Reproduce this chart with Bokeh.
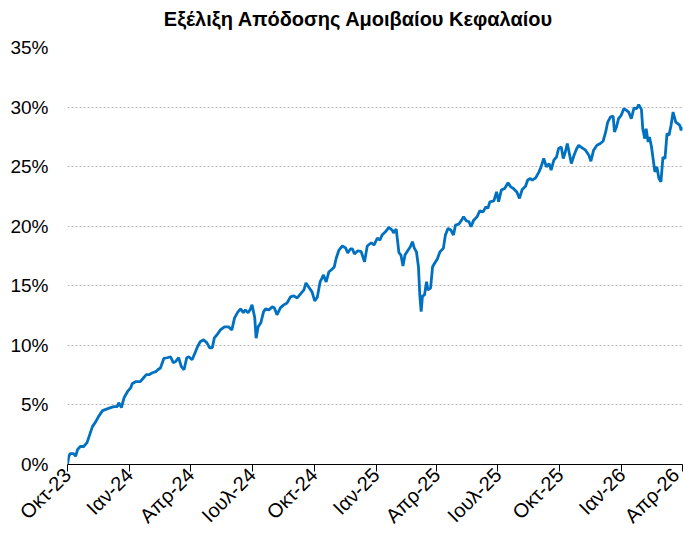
import pandas as pd
from bokeh.plotting import figure
from bokeh.models import FixedTicker, PrintfTickFormatter, Range1d, ColumnDataSource, Div
from bokeh.layouts import column
from bokeh.embed import file_html
from bokeh.resources import INLINE

title_text = "Εξέλιξη Απόδοσης Αμοιβαίου Κεφαλαίου"
start_date = "2023-10-01"
end_date = "2026-04-01"

# days since start_date
days = [0, 2, 4, 9, 12, 15, 19, 24, 29, 33, 37, 42, 46, 52, 56, 64, 69, 74, 76, 80,
        84, 89, 94, 96, 101, 108, 113, 117, 121, 126, 131, 134, 138, 143, 148, 153, 157, 160, 165, 169,
        173, 177, 180, 185, 190, 193, 197, 202, 207, 211, 215, 218, 222, 227, 233, 239, 244, 248, 253, 257,
        261, 264, 268, 271, 274, 278, 280, 283, 287, 291, 294, 299, 304, 307, 311, 316, 321, 326, 331, 336,
        341, 346, 351, 354, 358, 363, 367, 371, 375, 378, 380, 384, 388, 393, 396, 399, 403, 408, 413, 416,
        420, 423, 426, 431, 436, 441, 445, 451, 455, 460, 464, 467, 472, 477, 482, 484, 488, 492, 495, 498,
        501, 504, 509, 512, 515, 518, 521, 523, 525, 527, 530, 533, 535, 539, 542, 545, 549, 553, 558, 561,
        565, 569, 573, 576, 581, 585, 588, 592, 596, 599, 603, 608, 612, 617, 621, 624, 627, 633, 637, 640,
        644, 649, 654, 658, 662, 667, 671, 675, 680, 683, 687, 690, 695, 700, 703, 707, 711, 715, 718, 722,
        726, 729, 733, 736, 739, 742, 745, 748, 752, 756, 759, 764, 769, 774, 777, 781, 786, 791, 795, 799,
        802, 806, 810, 812, 815, 818, 822, 826, 830, 833, 837, 841, 845, 848, 852, 854, 857, 859, 862, 864,
        867, 869, 872, 875, 878, 881, 884, 887, 890, 893, 896, 899, 903, 906, 909, 911, 913]

returns = [0.00, 0.69, 0.92, 0.92, 0.69, 1.26, 1.51, 1.51, 1.84, 2.51, 3.18, 3.60, 4.02, 4.52, 4.61, 4.77, 4.86, 4.86, 5.19, 4.77,
           5.61, 6.11, 6.45, 6.78, 6.95, 6.95, 7.28, 7.54, 7.54, 7.70, 7.79, 7.95, 8.10, 8.90, 8.96, 9.04, 8.54, 8.62, 8.96, 8.21,
           7.95, 8.96, 9.04, 8.79, 9.46, 9.88, 10.30, 10.47, 10.21, 9.80, 9.80, 10.63, 10.89, 11.30, 11.55, 11.55, 11.30, 12.31, 12.81, 13.06,
           12.73, 12.98, 12.73, 12.98, 13.40, 12.31, 10.60, 11.55, 11.89, 12.81, 13.06, 12.98, 13.23, 13.15, 12.56, 13.15, 13.40, 13.56, 14.07, 14.15,
           13.98, 14.32, 14.65, 15.24, 14.90, 14.49, 13.73, 14.07, 15.32, 15.66, 15.91, 15.32, 16.16, 16.41, 16.58, 17.33, 18.00, 18.34, 18.17, 17.75,
           18.09, 18.09, 17.67, 17.94, 17.86, 17.02, 18.34, 18.61, 18.42, 19.01, 18.84, 19.26, 19.53, 19.90, 19.68, 19.43, 19.76, 17.78, 17.58, 16.66,
           17.58, 17.86, 18.28, 18.70, 18.14, 17.86, 16.60, 14.23, 12.84, 14.15, 14.23, 15.35, 14.65, 14.80, 16.60, 16.89, 17.25, 17.86, 18.14, 19.26,
           19.82, 19.68, 19.26, 20.10, 20.18, 20.51, 20.79, 20.46, 20.37, 19.95, 20.51, 20.79, 21.29, 21.21, 21.63, 21.49, 22.05, 22.13, 22.88, 22.05,
           23.03, 23.17, 23.64, 23.30, 23.17, 22.88, 22.33, 23.08, 23.36, 23.86, 24.01, 23.86, 24.06, 24.56, 24.98, 25.68, 24.98, 25.26, 24.70, 25.54,
           25.81, 26.52, 26.65, 25.68, 26.23, 26.94, 26.10, 25.26, 25.96, 26.52, 26.79, 26.57, 26.38, 25.96, 25.45, 26.38, 26.79, 26.94, 27.13, 27.91,
           28.74, 29.16, 29.25, 27.91, 28.33, 29.03, 29.31, 29.87, 29.72, 29.58, 29.03, 29.92, 29.87, 30.20, 29.81, 28.19, 27.35, 28.19, 27.07, 27.49,
           26.65, 25.81, 24.56, 24.98, 24.01, 23.72, 25.81, 25.68, 27.77, 27.63, 28.47, 29.58, 28.74, 28.61, 28.47, 28.05, 28.33]

tick_dates = ["2023-10-01", "2024-01-01", "2024-04-01", "2024-07-01", "2024-10-01", "2025-01-01",
              "2025-04-01", "2025-07-01", "2025-10-01", "2026-01-01", "2026-04-01"]
tick_labels = ["Οκτ-23", "Ιαν-24", "Απρ-24", "Ιουλ-24", "Οκτ-24", "Ιαν-25",
               "Απρ-25", "Ιουλ-25", "Οκτ-25", "Ιαν-26", "Απρ-26"]
y_ticks = [0, 5, 10, 15, 20, 25, 30, 35]

assert len(days) == len(returns)

dates = pd.Timestamp(start_date) + pd.to_timedelta(days, unit="D")
src = ColumnDataSource(dict(x=dates, y=returns))

def ms(d):
    return int(pd.Timestamp(d).value // 10**6)

title_div = Div(text=title_text, width=683, height=36, margin=(0, 0, 0, 0),
                styles={"font-family": "Liberation Sans", "font-weight": "bold",
                        "font-size": "20px", "color": "black", "text-align": "center",
                        "padding-left": "33px", "padding-top": "7px",
                        "box-sizing": "border-box", "line-height": "24px"})

p = figure(width=683, height=501, x_axis_type="datetime", output_backend="svg",
           toolbar_location=None, min_border_left=67, min_border_right=1,
           min_border_top=11, min_border_bottom=72,
           x_range=Range1d(pd.Timestamp(start_date), pd.Timestamp(end_date)),
           y_range=Range1d(0, 35), margin=(0, 0, 0, 0))
p.outline_line_color = None
p.background_fill_color = "white"
p.border_fill_color = "white"

p.line("x", "y", source=src, line_color="#0070C0", line_width=2.8)

xa = p.xaxis[0]
xa.ticker = FixedTicker(ticks=[ms(d) for d in tick_dates])
xa.major_label_overrides = {ms(d): lab for d, lab in zip(tick_dates, tick_labels)}
xa.major_label_orientation = 0.785398
xa.major_label_text_font = "Liberation Sans"
xa.major_label_text_font_size = "20px"
xa.major_label_text_color = "black"
xa.major_label_standoff = 0
xa.axis_line_color = "black"
xa.major_tick_line_color = "black"
xa.major_tick_out = 7
xa.major_tick_in = 0
xa.minor_tick_out = 0
xa.minor_tick_in = 0
xa.minor_tick_line_color = None

ya = p.yaxis[0]
ya.ticker = FixedTicker(ticks=y_ticks)
ya.formatter = PrintfTickFormatter(format="%d%%")
ya.axis_line_color = None
ya.major_tick_line_color = None
ya.major_tick_out = 0
ya.major_tick_in = 0
ya.minor_tick_out = 0
ya.minor_tick_line_color = None
ya.major_label_text_font = "Liberation Sans"
ya.major_label_text_font_size = "19px"
ya.major_label_text_color = "black"
ya.major_label_standoff = 19

p.xgrid.grid_line_color = None
p.ygrid.grid_line_color = "#B4B4B4"
p.ygrid.grid_line_dash = "2 2"
p.ygrid.grid_line_width = 1

layout = column(title_div, p, spacing=0, margin=(0, 0, 0, 0))

open("out.html", "w").write(file_html(layout, INLINE))
